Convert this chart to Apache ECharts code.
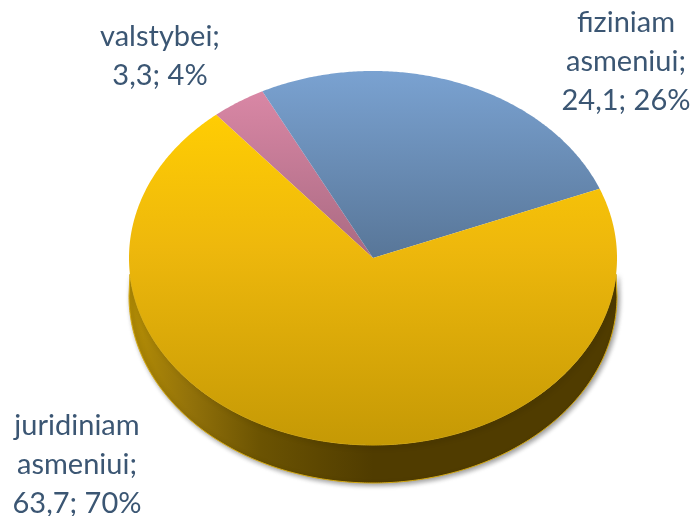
<!DOCTYPE html>
<html>
<head>
<meta charset="utf-8">
<style>
html, body { margin: 0; padding: 0; background: #fff; }
#chart { width: 694px; height: 516px; }
</style>
<script src="https://cdn.jsdelivr.net/npm/echarts@6/dist/echarts.min.js"></script>
</head>
<body>
<div id="chart"></div>
<script>
// duomenys
var categories = ['valstybei', 'fiziniam asmeniui', 'juridiniam asmeniui'];
var values = [3.3, 24.1, 63.7];

// tilted pie geometry (the pie is squashed into an ellipse, so a plain pie series can't do it)
var cx = 373, cy = 258, rx = 244, ry = 187, depth = 38;
var firstAngle = -40;   // degrees clockwise from the top
var labelPos = [[160, 56], [626, 62], [77, 465]];

var topColors = [
    [[0, '#d987a5'], [1, '#a96a82']],
    [[0, '#7aa2d1'], [1, '#587698']],
    [[0, '#ffcd03'], [0.4, '#eeb80c'], [1, '#c59905']]
];

var total = values.reduce(function(a, b) { return a + b; }, 0);

function startOf(i) {
    var sum = 0;
    for (var k = 0; k < i; k++) sum += values[k];
    return firstAngle + sum / total * 360;
}

function ptOnEllipse(deg, shift) {
    var a = deg * Math.PI / 180;
    return [cx + rx * Math.sin(a), cy - ry * Math.cos(a) + shift];
}

function arcPoints(from, to, shift) {
    var pts = [];
    var n = Math.max(2, Math.ceil(Math.abs(to - from) * 2));
    for (var j = 0; j <= n; j++) {
        pts.push(ptOnEllipse(from + (to - from) * j / n, shift));
    }
    return pts;
}

function labelText(i) {
    var pct = Math.round(values[i] / total * 100);
    var name = categories[i].split(' ');
    return name.join('\n') + ';\n' + String(values[i]).replace('.', ',') + '; ' + pct + '%';
}

function renderWall(params, api) {
    var from = startOf(params.dataIndex);
    var to = from + api.value(0) / total * 360;
    // only the front half of the rim can be seen
    var a = Math.max(from, 90), b = Math.min(to, 270);
    if (b <= a) return null;
    // upper edge starts a bit lower so the rim tips tuck under the top face
    var pts = arcPoints(a, b, depth).concat(arcPoints(b - 5, a + 5, 0));
    return {
        type: 'polygon',
        shape: { points: pts },
        style: {
            fill: new echarts.graphic.LinearGradient(cx - rx, 0, cx + rx, 0, [
                { offset: 0, color: '#b58e05' },
                { offset: 0.12, color: '#94730a' },
                { offset: 0.27, color: '#6b5302' },
                { offset: 0.5, color: '#503c00' },
                { offset: 1, color: '#503c00' }
            ], true),
            stroke: '#d6aa10',
            lineWidth: 1,
            shadowBlur: 5,
            shadowColor: 'rgba(0,0,0,0.4)',
            shadowOffsetX: 2,
            shadowOffsetY: 2
        }
    };
}

function renderTop(params, api) {
    var i = params.dataIndex;
    var from = startOf(i);
    var to = from + api.value(0) / total * 360;
    var pts = [[cx, cy]].concat(arcPoints(from, to, 0));
    return {
        type: 'group',
        children: [{
            type: 'polygon',
            shape: { points: pts },
            style: {
                fill: new echarts.graphic.LinearGradient(0, 0, 0, 1, topColors[i].map(function(s) {
                    return { offset: s[0], color: s[1] };
                }))
            }
        }, {
            type: 'text',
            x: labelPos[i][0],
            y: labelPos[i][1],
            style: {
                text: labelText(i),
                fill: '#3b5673',
                font: '29px Lato',
                lineHeight: 39,
                align: 'center',
                verticalAlign: 'middle'
            }
        }]
    };
}

var seriesData = values.map(function(v, i) {
    return { name: categories[i], value: v };
});

var myChart = echarts.init(document.getElementById('chart'));
myChart.setOption({
    animation: false,
    series: [
        { type: 'custom', coordinateSystem: 'none', renderItem: renderWall, data: seriesData, z: 1 },
        { type: 'custom', coordinateSystem: 'none', renderItem: renderTop, data: seriesData, z: 2 }
    ]
});
</script>
</body>
</html>
